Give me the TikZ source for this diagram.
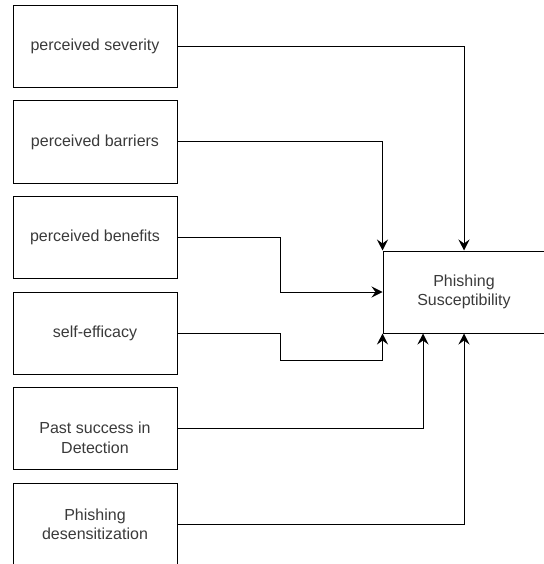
\documentclass[tikz,border=0pt]{standalone}
\usepackage{fontspec}
\setmainfont{Liberation Sans}
\usepackage{tikz}
\usetikzlibrary{arrows.meta}

\definecolor{boxtext}{HTML}{3A3A3A}

\begin{document}
\begin{tikzpicture}[x=1pt, y=-1pt,
  factor/.style={draw, line width=1pt, minimum width=164pt, minimum height=82pt,
    align=center, text=boxtext, font=\fontsize{16}{19.5}\selectfont},
  link/.style={line width=1pt, -{Stealth[length=11pt,width=11pt,inset=4pt]}}]
\useasboundingbox (0,0) rectangle (543,564);
\begin{scope}
% draws boxes
\node[factor] (sev) at (95,46.5) {perceived severity};
\node[factor] (bar) at (95,142) {perceived barriers};
\node[factor] (ben) at (95,237.5) {perceived benefits};
\node[factor] (eff) at (95,333) {self-efficacy};
\node[factor] (past) at (95,428) {\rule{0pt}{31pt}Past success in\\ Detection};
\node[factor] (des) at (95,524.5) {Phishing\\ desensitization};
\node[factor, minimum width=162pt] (phish) at (464,292) {Phishing\\ Susceptibility};
% draws arrows
\draw[link] (sev.east) -| (phish.north);
\draw[link] (bar.east) -| (phish.north west);
\draw[link] (ben.east) -- ++(103,0) |- (phish.west);
\draw[link] (eff.east) -- ++(103,0) |- ([yshift=-27pt]phish.south west) -- (phish.south west);
\draw[link] (past.east) -| ([xshift=-41pt]phish.south);
\draw[link] (des.east) -| (phish.south);
\end{scope}
\end{tikzpicture}
\end{document}
